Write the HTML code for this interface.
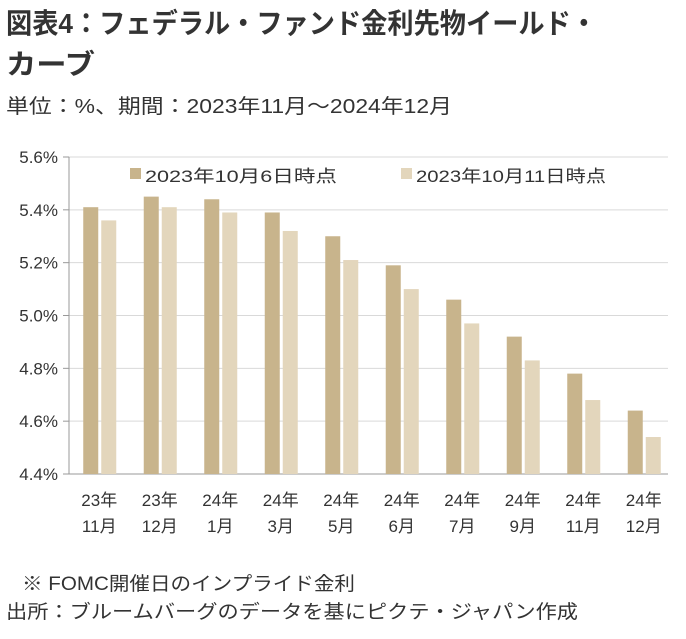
<!DOCTYPE html>
<html><head><meta charset="utf-8"><style>
body{margin:0;background:#fff;}
svg{display:block;font-family:"Liberation Sans","Noto Sans CJK JP",sans-serif;}
</style></head><body>
<svg id="c" width="686" height="639">
<text x="6" y="33" font-size="28" font-weight="bold" fill="#333" textLength="591" lengthAdjust="spacingAndGlyphs">図表4：フェデラル・ファンド金利先物イールド・</text>
<text x="6" y="74" font-size="28" font-weight="bold" fill="#333" textLength="89" lengthAdjust="spacingAndGlyphs">カーブ</text>
<text x="6" y="113" font-size="20" fill="#333" textLength="446" lengthAdjust="spacingAndGlyphs">単位：%、期間：2023年11月～2024年12月</text>
<g id="grid"></g><g id="bars"></g><g id="labels"></g>
<rect x="130" y="168" width="11" height="11" fill="#c8b48c"/>
<text x="145" y="182" font-size="17" fill="#333" textLength="192" lengthAdjust="spacingAndGlyphs">2023年10月6日時点</text>
<rect x="401" y="168" width="11" height="11" fill="#e3d6bc"/>
<text x="416" y="182" font-size="17" fill="#333" textLength="190" lengthAdjust="spacingAndGlyphs">2023年10月11日時点</text>
<text x="22" y="590" font-size="19" fill="#333" textLength="333" lengthAdjust="spacingAndGlyphs">※ FOMC開催日のインプライド金利</text>
<text x="6" y="618" font-size="19" fill="#333" textLength="572" lengthAdjust="spacingAndGlyphs">出所：ブルームバーグのデータを基にピクテ・ジャパン作成</text>
</svg>
<script>
const categoriesTop=["23年","23年","24年","24年","24年","24年","24年","24年","24年","24年"];
const categoriesBottom=["11月","12月","1月","3月","5月","6月","7月","9月","11月","12月"];
const seriesOct6=[5.41,5.45,5.44,5.39,5.30,5.19,5.06,4.92,4.78,4.64];
const seriesOct11=[5.36,5.41,5.39,5.32,5.21,5.10,4.97,4.83,4.68,4.54];
const yTicks=[4.4,4.6,4.8,5.0,5.2,5.4,5.6];
const yTickLabels=["4.4%","4.6%","4.8%","5.0%","5.2%","5.4%","5.6%"];
const NS="http://www.w3.org/2000/svg";
const y0=474,y1=157,vmin=4.4,vmax=5.6,x0=69,step=60.5;
const y=v=>y0-(v-vmin)/(vmax-vmin)*(y0-y1);
const xc=i=>x0+step*(i+0.5);
function mk(tag,attrs,parent,txt){const e=document.createElementNS(NS,tag);for(const k in attrs)e.setAttribute(k,attrs[k]);if(txt!==undefined)e.textContent=txt;document.getElementById(parent).appendChild(e);return e;}
yTicks.forEach((t,i)=>{
  const g=mk('line',{x1:x0,x2:668,y1:y(t),y2:y(t),stroke:i===0?'#999':'#d9d9d9','stroke-width':1},'grid');
  
  
  const tk=mk('line',{x1:63,x2:x0,y1:y(t),y2:y(t),stroke:'#999'},'grid');
  
  
  const l=mk('text',{x:58,y:y(t)+6,'font-size':17,fill:'#333','text-anchor':'end'},'labels',yTickLabels[i]);
  
  
});
const ax=mk('line',{x1:x0,x2:x0,y1:y1,y2:y0,stroke:'#999'},'grid');


categoriesTop.forEach((c,i)=>{
  const a=mk('rect',{x:xc(i)-16,y:y(seriesOct6[i]),width:15,height:y0-y(seriesOct6[i]),fill:'#c8b48c'},'bars');
  
  
  const b=mk('rect',{x:xc(i)+2,y:y(seriesOct11[i]),width:15,height:y0-y(seriesOct11[i]),fill:'#e3d6bc'},'bars');
  
  
  const t1=mk('text',{x:xc(i),y:506,'font-size':17,fill:'#333','text-anchor':'middle'},'labels',c);
  
  
  const t2=mk('text',{x:xc(i),y:532,'font-size':17,fill:'#333','text-anchor':'middle'},'labels',categoriesBottom[i]);
  
  
});
</script>
</body></html>
